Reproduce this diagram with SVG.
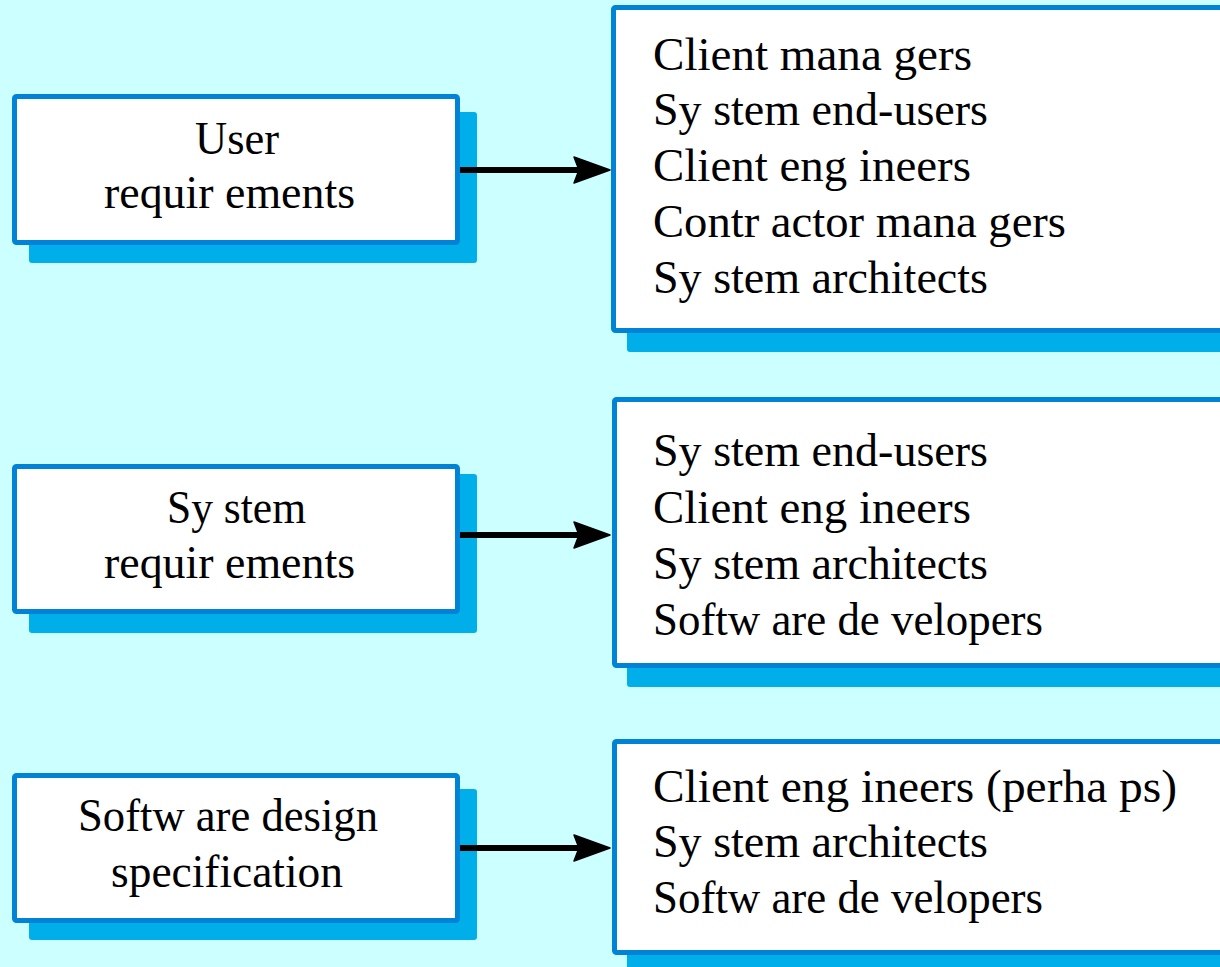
<svg xmlns="http://www.w3.org/2000/svg" width="1220" height="967" viewBox="0 0 1220 967">
<defs>
<style>
.bg{fill:#CCFFFF}
.shadow{fill:#00AEEA}
.box{fill:#FFFFFF;stroke:#0082D6;stroke-width:5}
.t{font-family:"Liberation Serif","Times New Roman",serif;font-size:47px;fill:#000}
.conn{stroke:#000;stroke-width:6;fill:none}
.head{fill:#000;stroke:#000;stroke-width:1.5;stroke-linejoin:round}
</style>
</defs>
<rect class="bg" x="0" y="0" width="1220" height="967"/>

<g id="user-req">
<rect class="shadow" x="29" y="112" width="448" height="151" rx="3"/>
<rect class="box" x="14.5" y="96.5" width="443" height="146" rx="2"/>
<text class="t" x="195" y="154" textLength="84" lengthAdjust="spacingAndGlyphs">User</text>
<text class="t" x="104" y="208" textLength="251" lengthAdjust="spacingAndGlyphs">requir ements</text>
</g>

<g id="user-readers">
<rect class="shadow" x="627" y="22" width="620" height="330" rx="3"/>
<rect class="box" x="613.5" y="7.5" width="630" height="323" rx="2"/>
<text class="t" x="653" y="70" textLength="319" lengthAdjust="spacingAndGlyphs">Client mana gers</text>
<text class="t" x="653" y="125" textLength="335" lengthAdjust="spacingAndGlyphs">Sy stem end-users</text>
<text class="t" x="653" y="181" textLength="318" lengthAdjust="spacingAndGlyphs">Client eng ineers</text>
<text class="t" x="653" y="237" textLength="413" lengthAdjust="spacingAndGlyphs">Contr actor mana gers</text>
<text class="t" x="653" y="293" textLength="335" lengthAdjust="spacingAndGlyphs">Sy stem architects</text>
</g>

<g id="system-req">
<rect class="shadow" x="29" y="474" width="448" height="159" rx="3"/>
<rect class="box" x="14.5" y="466.5" width="443" height="145" rx="2"/>
<text class="t" x="167" y="523" textLength="139" lengthAdjust="spacingAndGlyphs">Sy stem</text>
<text class="t" x="104" y="578" textLength="251" lengthAdjust="spacingAndGlyphs">requir ements</text>
</g>

<g id="system-readers">
<rect class="shadow" x="627" y="412" width="620" height="275" rx="3"/>
<rect class="box" x="614.5" y="399.5" width="630" height="266" rx="2"/>
<text class="t" x="653" y="466" textLength="335" lengthAdjust="spacingAndGlyphs">Sy stem end-users</text>
<text class="t" x="653" y="523" textLength="318" lengthAdjust="spacingAndGlyphs">Client eng ineers</text>
<text class="t" x="653" y="579" textLength="335" lengthAdjust="spacingAndGlyphs">Sy stem architects</text>
<text class="t" x="653" y="635" textLength="390" lengthAdjust="spacingAndGlyphs">Softw are de velopers</text>
</g>

<g id="software-spec">
<rect class="shadow" x="29" y="789" width="448" height="151" rx="3"/>
<rect class="box" x="14.5" y="775.5" width="443" height="145" rx="2"/>
<text class="t" x="78" y="831" textLength="300" lengthAdjust="spacingAndGlyphs">Softw are design</text>
<text class="t" x="111" y="887" textLength="232" lengthAdjust="spacingAndGlyphs">specification</text>
</g>

<g id="software-readers">
<rect class="shadow" x="627" y="754" width="620" height="230" rx="3"/>
<rect class="box" x="614.5" y="741.5" width="630" height="211" rx="2"/>
<text class="t" x="653" y="802" textLength="524" lengthAdjust="spacingAndGlyphs">Client eng ineers (perha ps)</text>
<text class="t" x="653" y="857" textLength="335" lengthAdjust="spacingAndGlyphs">Sy stem architects</text>
<text class="t" x="653" y="913" textLength="390" lengthAdjust="spacingAndGlyphs">Softw are de velopers</text>
</g>

<g id="connectors">
<line class="conn" x1="460" y1="170" x2="580" y2="170"/>
<polygon class="head" points="610,170 574,157 579,170 574,183"/>
<line class="conn" x1="460" y1="535" x2="580" y2="535"/>
<polygon class="head" points="610,535 574,522 579,535 574,548"/>
<line class="conn" x1="460" y1="848" x2="580" y2="848"/>
<polygon class="head" points="610,848 574,835 579,848 574,861"/>
</g>
</svg>
